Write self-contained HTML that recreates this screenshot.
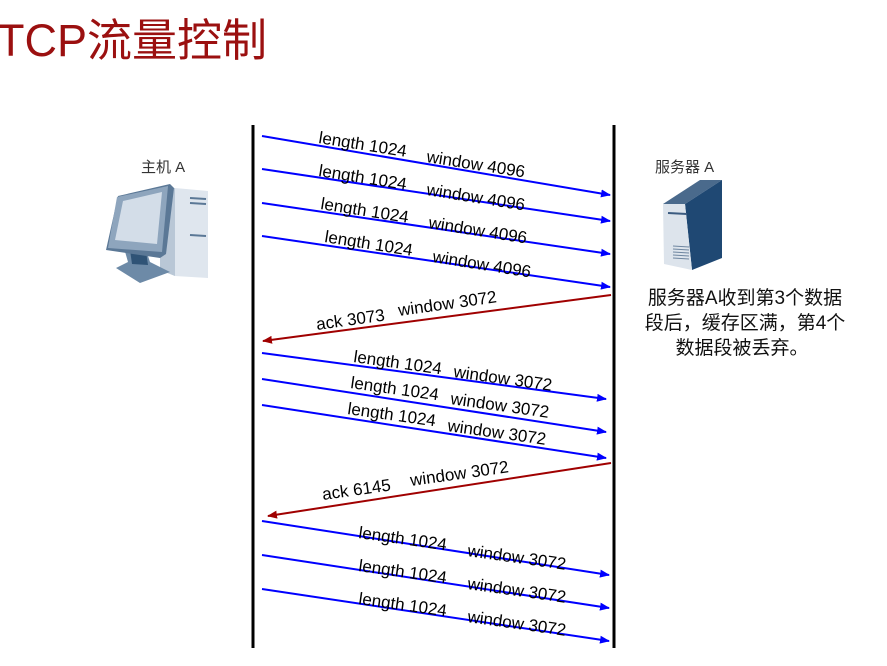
<!DOCTYPE html>
<html><head><meta charset="utf-8"><style>
body{margin:0;background:#fff;width:887px;height:666px;overflow:hidden}
svg{display:block}
text{font-family:"Liberation Sans","Noto Sans CJK SC",sans-serif}
</style></head><body>
<svg width="887" height="666" viewBox="0 0 887 666">
<defs>
<marker id="b" markerWidth="10" markerHeight="8" refX="9" refY="4" orient="auto" markerUnits="userSpaceOnUse"><path d="M0,0 L10,4 L0,8 Z" fill="#0000ff"/></marker>
<marker id="r" markerWidth="10" markerHeight="8" refX="9" refY="4" orient="auto" markerUnits="userSpaceOnUse"><path d="M0,0 L10,4 L0,8 Z" fill="#a00000"/></marker>
</defs>
<text x="-3" y="56" font-size="45" fill="#9b1010">TCP流量控制</text>
<line x1="253" y1="125" x2="253" y2="648" stroke="#000" stroke-width="3"/>
<line x1="614" y1="125" x2="614" y2="648" stroke="#000" stroke-width="3"/>
<text x="141" y="172" font-size="15" fill="#333">主机 A</text>
<text x="655" y="172" font-size="15" fill="#333">服务器 A</text>
<!-- computer -->
<g>
<polygon points="160,190 175,188 208,191 208,278 175,276 160,270" fill="#dfe6ee"/>
<polygon points="160,190 175,188 175,276 160,270" fill="#b9c7d6"/>
<line x1="190" y1="198" x2="206" y2="199" stroke="#5b7896" stroke-width="2"/>
<line x1="190" y1="203" x2="206" y2="204" stroke="#5b7896" stroke-width="2"/>
<line x1="190" y1="235" x2="206" y2="236" stroke="#5b7896" stroke-width="2"/>
<polygon points="124,248 146,250 150,262 170,272 140,283 116,268 128,262" fill="#6d8aa7"/>
<polygon points="130,250 146,251 148,265 132,264" fill="#2f5376"/>
<polygon points="118,196 170,184 174,188 166,254 160,258 106,250" fill="#5b7896"/>
<polygon points="117,197 168,186 162,252 108,248" fill="#8ea5bd"/>
<polygon points="123,201 162,192 157,244 115,240" fill="#d3dde8"/>
</g>
<!-- server -->
<g>
<polygon points="663,204 700,180 722,180 685,204" fill="#4a6a8c"/>
<polygon points="685,204 722,180 722,258 692,270" fill="#1f4873"/>
<polygon points="663,204 685,204 692,270 664,264" fill="#dde4ec"/>
<line x1="668" y1="213" x2="687" y2="214" stroke="#3b5b80" stroke-width="2"/>
<g stroke="#6e86a0" stroke-width="1"><line x1="673" y1="246" x2="689" y2="247"/><line x1="673" y1="249" x2="689" y2="250"/><line x1="673" y1="252" x2="689" y2="253"/><line x1="673" y1="255" x2="689" y2="256"/><line x1="673" y1="258" x2="689" y2="259"/></g>
</g>
<g font-size="19" fill="#111" text-anchor="middle">
<text x="745" y="304">服务器A收到第3个数据</text>
<text x="745" y="329">段后，缓存区满，第4个</text>
<text x="742" y="354">数据段被丢弃。</text>
</g>
<g stroke="#0000ff" stroke-width="2" marker-end="url(#b)">
<line x1="262" y1="136" x2="610" y2="195"/>
<line x1="262" y1="169" x2="610" y2="221"/>
<line x1="262" y1="203" x2="610" y2="254"/>
<line x1="262" y1="236" x2="610" y2="287"/>
<line x1="262" y1="353" x2="606" y2="399"/>
<line x1="262" y1="379" x2="606" y2="432"/>
<line x1="262" y1="405" x2="606" y2="458"/>
<line x1="262" y1="521" x2="609" y2="575"/>
<line x1="262" y1="555" x2="609" y2="608"/>
<line x1="262" y1="589" x2="609" y2="641"/>
</g>
<g stroke="#a00000" stroke-width="2" marker-end="url(#r)">
<line x1="611" y1="295" x2="263" y2="341"/>
<line x1="611" y1="463" x2="268" y2="516"/>
</g>
<g font-size="17" fill="#000">
<text transform="translate(318,143) rotate(9)">length 1024</text>
<text transform="translate(426,162) rotate(9)">window 4096</text>
<text transform="translate(318,176) rotate(9)">length 1024</text>
<text transform="translate(426,195) rotate(9)">window 4096</text>
<text transform="translate(320,209) rotate(9)">length 1024</text>
<text transform="translate(428,228) rotate(9)">window 4096</text>
<text transform="translate(324,242) rotate(9)">length 1024</text>
<text transform="translate(432,262) rotate(9)">window 4096</text>
<text transform="translate(317,330) rotate(-8)">ack 3073</text>
<text transform="translate(399,316) rotate(-8)">window 3072</text>
<text transform="translate(353,362) rotate(8)">length 1024</text>
<text transform="translate(453,377) rotate(8)">window 3072</text>
<text transform="translate(350,388) rotate(8)">length 1024</text>
<text transform="translate(450,404) rotate(8)">window 3072</text>
<text transform="translate(347,414) rotate(8)">length 1024</text>
<text transform="translate(447,431) rotate(8)">window 3072</text>
<text transform="translate(323,500) rotate(-8)">ack 6145</text>
<text transform="translate(411,486) rotate(-8)">window 3072</text>
<text transform="translate(358,538) rotate(8)">length 1024</text>
<text transform="translate(467,556) rotate(8)">window 3072</text>
<text transform="translate(358,571) rotate(8)">length 1024</text>
<text transform="translate(467,589) rotate(8)">window 3072</text>
<text transform="translate(358,604) rotate(8)">length 1024</text>
<text transform="translate(467,622) rotate(8)">window 3072</text>
</g>
</svg>
</body></html>
